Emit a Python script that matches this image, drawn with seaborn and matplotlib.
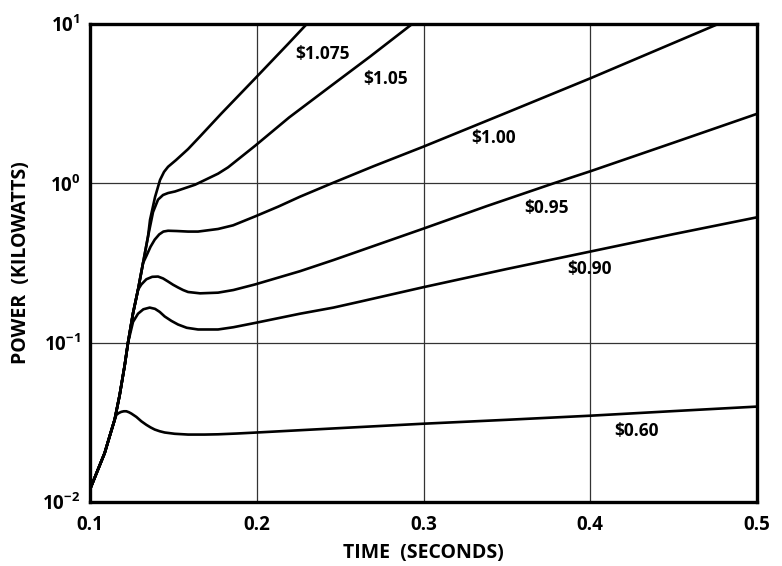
import numpy as np
import pandas as pd
import matplotlib
matplotlib.use("Agg")
import matplotlib.pyplot as plt
import seaborn as sns
from matplotlib.ticker import FixedLocator, FixedFormatter

# ---------------- data ----------------
prices = ["$1.075", "$1.05", "$1.00", "$0.95", "$0.90", "$0.60"]

t_060 = [0.100, 0.1048, 0.1088, 0.1118, 0.1148, 0.1158, 0.1173, 0.1188, 0.1203, 0.1218, 0.1233,
         0.1248, 0.1278, 0.1308, 0.1338, 0.1363, 0.1388, 0.1418, 0.1448, 0.1508, 0.1588, 0.1688,
         0.1768, 0.188, 0.200, 0.250, 0.300, 0.350, 0.400, 0.450, 0.500]
p_060 = [0.0120, 0.0160, 0.0203, 0.0259, 0.0329, 0.0352, 0.0362, 0.0368, 0.0371, 0.0371, 0.0366,
         0.0359, 0.0342, 0.0321, 0.0305, 0.0294, 0.0285, 0.0278, 0.0273, 0.0268, 0.0265, 0.0265,
         0.0266, 0.0269, 0.0273, 0.0291, 0.0310, 0.0328, 0.0348, 0.0372, 0.0397]

t_090 = [0.100, 0.1048, 0.1088, 0.1118, 0.1148, 0.1178, 0.1208, 0.1228, 0.1258, 0.1288,
         0.132, 0.1358, 0.139, 0.1418, 0.1448, 0.1488, 0.1528, 0.158, 0.1648, 0.1768, 0.186,
         0.199, 0.226, 0.246, 0.262, 0.300, 0.350, 0.400, 0.450, 0.500]
p_090 = [0.0120, 0.0160, 0.0203, 0.0259, 0.0329, 0.0470, 0.0720, 0.100, 0.135, 0.152,
         0.162, 0.166, 0.163, 0.156, 0.146, 0.137, 0.130, 0.124, 0.121, 0.121, 0.125,
         0.133, 0.152, 0.166, 0.181, 0.223, 0.290, 0.373, 0.480, 0.612]

t_095 = [0.100, 0.1048, 0.1088, 0.1118, 0.1148, 0.1178, 0.1208, 0.1228, 0.1258, 0.1288,
         0.1308, 0.1338, 0.1373, 0.1408, 0.1438, 0.1468, 0.1498, 0.1528, 0.1558, 0.1588, 0.166,
         0.1768, 0.186, 0.199, 0.226, 0.246, 0.300, 0.338, 0.378, 0.400, 0.450, 0.500]
p_095 = [0.0120, 0.0160, 0.0203, 0.0259, 0.0329, 0.0470, 0.0720, 0.100, 0.153, 0.215,
         0.232, 0.250, 0.259, 0.260, 0.253, 0.242, 0.231, 0.222, 0.214, 0.208, 0.204,
         0.206, 0.214, 0.232, 0.281, 0.330, 0.520, 0.720, 1.00, 1.19, 1.80, 2.73]

t_100 = [0.100, 0.1048, 0.1088, 0.1118, 0.1148, 0.1178, 0.1208, 0.1228, 0.1258, 0.1288,
         0.1318, 0.1338, 0.1363, 0.1388, 0.1415, 0.144, 0.1468, 0.152, 0.1588, 0.1648, 0.1768,
         0.1858, 0.199, 0.213, 0.226, 0.245, 0.270, 0.300, 0.350, 0.400, 0.4767]
p_100 = [0.0120, 0.0160, 0.0203, 0.0259, 0.0329, 0.0470, 0.0720, 0.100, 0.153, 0.215,
         0.316, 0.350, 0.400, 0.443, 0.478, 0.498, 0.504, 0.502, 0.498, 0.498, 0.517,
         0.545, 0.620, 0.715, 0.825, 1.00, 1.28, 1.70, 2.78, 4.56, 10.0]

t_105 = [0.100, 0.1048, 0.1088, 0.1118, 0.1148, 0.1178, 0.1208, 0.1228, 0.1258, 0.1288,
         0.1318, 0.1348, 0.1378, 0.1408, 0.1438, 0.1468, 0.151, 0.163, 0.1768, 0.1828, 0.199,
         0.2194, 0.244, 0.268, 0.2932]
p_105 = [0.0120, 0.0160, 0.0203, 0.0259, 0.0329, 0.0470, 0.0720, 0.100, 0.153, 0.215,
         0.316, 0.464, 0.660, 0.790, 0.845, 0.869, 0.889, 0.980, 1.15, 1.26, 1.72,
         2.59, 4.05, 6.25, 10.0]

t_1075 = [0.100, 0.1048, 0.1088, 0.1118, 0.1148, 0.1178, 0.1208, 0.1228, 0.1258, 0.1288,
          0.1318, 0.1348, 0.136, 0.139, 0.142, 0.1444, 0.1468, 0.1516, 0.1588, 0.166, 0.1786,
          0.199, 0.2188, 0.230]
p_1075 = [0.0120, 0.0160, 0.0203, 0.0259, 0.0329, 0.0470, 0.0720, 0.100, 0.153, 0.215,
          0.316, 0.464, 0.590, 0.820, 1.05, 1.18, 1.27, 1.40, 1.64, 1.97, 2.73,
          4.55, 7.50, 10.0]

# label anchor points (data coords)
label_t = [0.2395, 0.277, 0.342, 0.3735, 0.3994, 0.4275]
label_p = [6.5, 4.49, 1.93, 0.70, 0.291, 0.0277]

x_ticks = [0.1, 0.2, 0.3, 0.4, 0.5]
x_ticklabels = ["0.1", "0.2", "0.3", "0.4", "0.5"]
y_ticks = [1e-2, 1e-1, 1e0, 1e1]
y_ticklabels = [r"$\mathbf{10^{-2}}$", r"$\mathbf{10^{-1}}$", r"$\mathbf{10^{0}}$", r"$\mathbf{10^{1}}$"]

series_t = [t_1075, t_105, t_100, t_095, t_090, t_060]
series_p = [p_1075, p_105, p_100, p_095, p_090, p_060]

frames = []
for name, tt, pp in zip(prices, series_t, series_p):
    frames.append(pd.DataFrame({"time": tt, "power": pp, "price": name}))
df = pd.concat(frames, ignore_index=True)

# ---------------- styling ----------------
sns.set_theme(style="white")
plt.rcParams["font.family"] = ["Open Sans", "DejaVu Sans"]
plt.rcParams["font.weight"] = "bold"
plt.rcParams["mathtext.fontset"] = "custom"
plt.rcParams["mathtext.bf"] = "Open Sans:bold"
plt.rcParams["mathtext.rm"] = "Open Sans:bold"

fig = plt.figure(figsize=(7.82, 5.66), dpi=100)
ax = fig.add_axes([90 / 782, 1 - 502 / 566, (757 - 90) / 782, (502 - 24) / 566])

sns.lineplot(data=df, x="time", y="power", hue="price", units="price",
             estimator=None, sort=False, palette=["black"] * len(prices),
             legend=False, linewidth=1.9, ax=ax)
for ln in ax.lines:
    ln.set_solid_joinstyle("round")
    ln.set_solid_capstyle("round")

ax.set_yscale("log")
ax.set_xlim(0.1, 0.5)
ax.set_ylim(1e-2, 1e1)

ax.xaxis.set_major_locator(FixedLocator(x_ticks))
ax.xaxis.set_major_formatter(FixedFormatter(x_ticklabels))
ax.yaxis.set_major_locator(FixedLocator(y_ticks))
ax.yaxis.set_major_formatter(FixedFormatter(y_ticklabels))
ax.yaxis.set_minor_locator(FixedLocator([]))

ax.grid(True, which="major", color="#333333", linewidth=0.9)
ax.tick_params(axis="both", which="both", length=0, labelsize=13.5, colors="black")
ax.tick_params(axis="x", pad=9)
ax.tick_params(axis="y", pad=7)
for lab in ax.get_xticklabels() + ax.get_yticklabels():
    lab.set_fontweight("bold")

for s in ax.spines.values():
    s.set_color("black")
    s.set_linewidth(2.4)

ax.set_xlabel("TIME  (SECONDS)", fontsize=14, fontweight="bold", labelpad=6, color="black")
ax.set_ylabel("POWER  (KILOWATTS)", fontsize=14, fontweight="bold", labelpad=8, color="black")

for name, lt, lp in zip(prices, label_t, label_p):
    ax.text(lt, lp, name, ha="center", va="center", fontsize=12.5, fontweight="bold",
            color="black")

fig.savefig("out.png", dpi=100, facecolor="white")
